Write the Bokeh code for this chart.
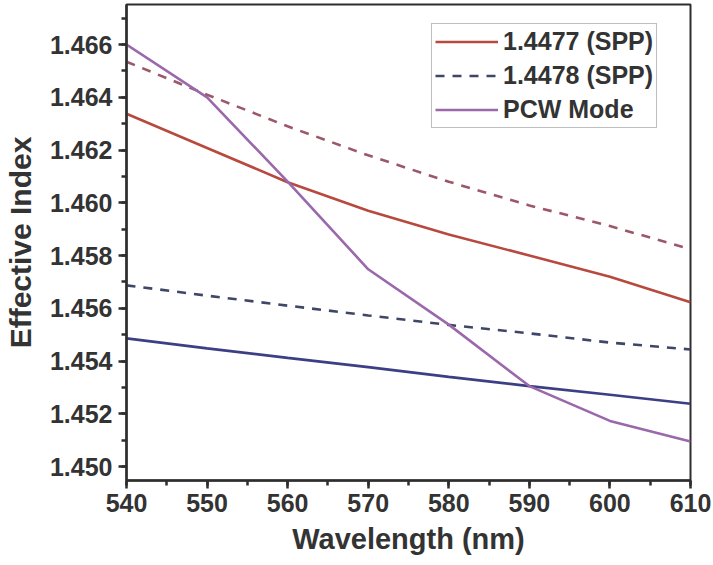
from bokeh.plotting import figure
from bokeh.models import (SingleIntervalTicker, PrintfTickFormatter, Range1d,
                          Legend, LegendItem)
from bokeh.embed import file_html
from bokeh.resources import INLINE

# Wavelength samples (nm)
wavelength = [540, 550, 560, 570, 580, 590, 600, 610]

# Effective index of the SPP modes for cladding index 1.4477
spp_1_4477_upper = [1.46338, 1.46208, 1.46078, 1.45970, 1.45880, 1.45800, 1.45720, 1.45623]
spp_1_4477_lower = [1.45486, 1.45448, 1.45412, 1.45377, 1.45340, 1.45305, 1.45272, 1.45238]

# Effective index of the SPP modes for cladding index 1.4478
spp_1_4478_upper = [1.46535, 1.46410, 1.46290, 1.46180, 1.46080, 1.45990, 1.45912, 1.45824]
spp_1_4478_lower = [1.45687, 1.45648, 1.45610, 1.45573, 1.45537, 1.45505, 1.45470, 1.45444]

# Photonic crystal waveguide mode
pcw_mode = [1.46600, 1.46400, 1.46080, 1.45748, 1.45538, 1.45305, 1.45173, 1.45095]

labels = ["1.4477 (SPP)", "1.4478 (SPP)", "PCW Mode"]

FONT = "Liberation Sans"
TEXT = "#333333"

p = figure(width=713, height=565, output_backend="svg", toolbar_location=None,
           x_range=Range1d(540, 610), y_range=Range1d(1.44947, 1.46752),
           min_border_left=124, min_border_right=23, min_border_top=4,
           min_border_bottom=85)

p.background_fill_color = "white"
p.border_fill_color = "white"
p.outline_line_color = "#2e2e2e"
p.outline_line_width = 2
p.xgrid.visible = False
p.ygrid.visible = False

red = "#b8493f"
red_dash = "#9c5868"
blue = "#3c3f84"
blue_dash = "#3f4667"
purple = "#9a68ab"
lw = 2.6

r_red = p.line(wavelength, spp_1_4477_upper, line_color=red, line_width=lw)
r_blue = p.line(wavelength, spp_1_4477_lower, line_color=blue, line_width=lw)
r_red_d = p.line(wavelength, spp_1_4478_upper, line_color=red_dash, line_width=lw,
                 line_dash="9 8")
r_blue_d = p.line(wavelength, spp_1_4478_lower, line_color=blue_dash, line_width=lw,
                  line_dash="9 8")
r_pcw = p.line(wavelength, pcw_mode, line_color=purple, line_width=lw)

for ax in (p.xaxis[0], p.yaxis[0]):
    ax.axis_line_color = "#2e2e2e"
    ax.axis_line_width = 2.5
    ax.major_tick_line_color = "#2e2e2e"
    ax.major_tick_line_width = 2.5
    ax.minor_tick_line_color = "#2e2e2e"
    ax.minor_tick_line_width = 2.5
    ax.major_tick_in = 0
    ax.major_tick_out = 8
    ax.minor_tick_in = 0
    ax.minor_tick_out = 5
    ax.major_label_text_font = FONT
    ax.major_label_text_font_style = "bold"
    ax.major_label_text_font_size = "25px"
    ax.major_label_text_color = TEXT
    ax.axis_label_text_font = FONT
    ax.axis_label_text_font_style = "bold"
    ax.axis_label_text_color = TEXT

p.xaxis.ticker = SingleIntervalTicker(interval=10, num_minor_ticks=2)
p.yaxis.ticker = SingleIntervalTicker(interval=0.002, num_minor_ticks=2)
p.yaxis.formatter = PrintfTickFormatter(format="%.3f")

p.xaxis.axis_label = "Wavelength (nm)"
p.xaxis.axis_label_text_font_size = "29px"
p.xaxis.major_label_standoff = 5
p.xaxis.axis_label_standoff = 8

p.yaxis.axis_label = "Effective Index"
p.yaxis.axis_label_text_font_size = "30px"
p.yaxis.major_label_standoff = 6
p.yaxis.axis_label_standoff = 10

legend = Legend(items=[
    LegendItem(label=labels[0], renderers=[r_red]),
    LegendItem(label=labels[1], renderers=[r_blue_d]),
    LegendItem(label=labels[2], renderers=[r_pcw]),
], location=(305, 352))
legend.label_text_font = FONT
legend.label_text_font_style = "bold"
legend.label_text_font_size = "25px"
legend.label_text_color = TEXT
legend.border_line_color = "#808080"
legend.border_line_width = 1
legend.background_fill_alpha = 1
legend.glyph_width = 63
legend.glyph_height = 29
legend.label_height = 29
legend.label_standoff = 5
legend.spacing = 5
legend.padding = 3
legend.margin = 0
p.add_layout(legend)

open("out.html", "w").write(file_html(p, INLINE))
